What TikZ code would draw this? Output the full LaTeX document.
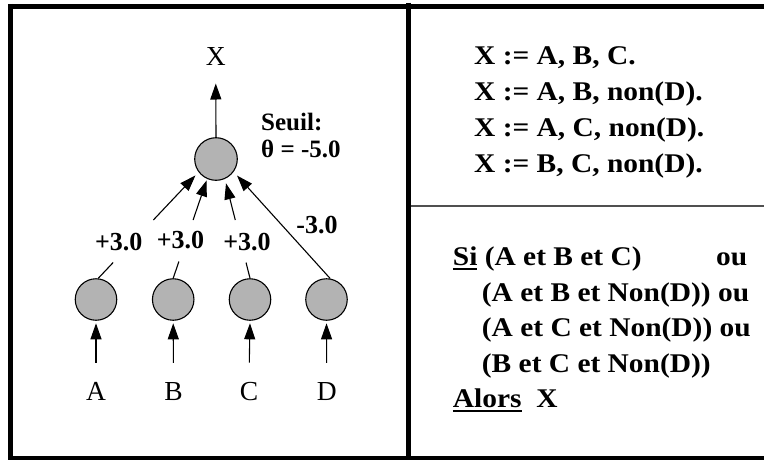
\documentclass[tikz,border=0pt]{standalone}
\usepackage{fontspec}
\setmainfont{Liberation Serif}
\newfontfamily\widefont{Liberation Serif}[FakeStretch=1.09]
\usetikzlibrary{arrows.meta,calc}
\definecolor{nfill}{RGB}{179,179,179}
\definecolor{divgray}{RGB}{80,80,80}
\newcommand\ulin[1]{\setbox0\hbox{#1}\rlap{\rule[-4.5pt]{\wd0}{1.6pt}}#1}
\tikzset{
  neuron/.style={circle, draw, line width=1.1pt, fill=nfill, minimum size=41.5pt, inner sep=0pt},
  conn/.style={line width=1.1pt},
  arr/.style={conn, -{Triangle[length=16pt,width=11pt]}},
  lbl/.style={font=\fontsize{26}{30}\selectfont\bfseries, inner sep=0pt, anchor=base},
  seuil/.style={font=\fontsize{25}{30}\selectfont\bfseries, inner sep=0pt, anchor=base west},
  letter/.style={font=\fontsize{27.5}{32}\selectfont, inner sep=0pt, anchor=base},
  rtext/.style={font=\widefont\bfseries\fontsize{27}{32}\selectfont, inner sep=0pt, anchor=base west},
  frame/.style={line width=5pt},
}
\begin{document}
\begin{tikzpicture}[x=1pt,y=-1pt]
\useasboundingbox (0,0) rectangle (764,459);
% frames
\draw[frame] (10.7,3.8) -- (10.7,462);
\draw[frame] (8.2,6.3) -- (770,6.3);
\draw[frame] (408,2.7) -- (408,462);
\draw[line width=4pt] (8.2,458) -- (770,458);
\draw[line width=1.5pt, divgray] (410.5,206) -- (770,206);

% neurons
\node[neuron, minimum size=42.6pt] (top) at (216,159) {};
\node[neuron] (iA) at (96,299.5) {};
\node[neuron] (iB) at (173.2,299.5) {};
\node[neuron] (iC) at (250,299.5) {};
\node[neuron] (iD) at (326.5,299.5) {};

% letters
\node[letter] (lX) at (215.7,65.7) {X};
\node[letter] (lA) at (96,400) {A};
\node[letter] (lB) at (173.5,400) {B};
\node[letter] (lC) at (249,400) {C};
\node[letter] (lD) at (326.7,400) {D};

% output and inputs
\draw[arr, shorten >=17.6pt] (top.north) -- (lX.south);
\draw[arr, shorten <=19pt, shorten >=2.5pt] (lA.north) -- (iA.south);
\draw[arr, shorten <=19pt, shorten >=2.5pt] (lB.north) -- (iB.south);
\draw[arr, shorten <=19pt, shorten >=2.5pt] (lC.north) -- (iC.south);
\draw[arr, shorten <=19pt, shorten >=2.5pt] (lD.north) -- (iD.south);

% weighted connections
\draw[conn] (iA.84) -- ($(iA.84)!0.149!(top.217)$);
\draw[arr, shorten >=4.5pt] ($(iA.84)!0.55!(top.217)$) -- (top.217);
\draw[conn] (iB.90) -- ($(iB.90)!0.168!(top.246)$);
\draw[arr, shorten >=1.5pt] ($(iB.90)!0.586!(top.246)$) -- (top.246);
\draw[conn] (iC.90) -- ($(iC.90)!0.158!(top.294)$);
\draw[arr, shorten >=4.5pt] ($(iC.90)!0.586!(top.294)$) -- (top.294);
\draw[arr, shorten >=5pt] (iD.80) -- (top.324);

% weights
\node[lbl] (wA) at (118.7,250.7) {+3.0};
\node[lbl] (wB) at (180.5,248.3) {+3.0};
\node[lbl] (wC) at (247,250.7) {+3.0};
\node[lbl] (wD) at (317,233.3) {-3.0};

% threshold
\node[seuil] (s1) at (261,130) {Seuil:};
\node[seuil] (s2) at (261,157.7) {θ = -5.0};

% rules
\node[rtext] (r1) at (474,64.3) {X := A, B, C.};
\node[rtext] (r2) at (474,100) {X := A, B, non(D).};
\node[rtext] (r3) at (474,136) {X := A, C, non(D).};
\node[rtext] (r4) at (474,172) {X := B, C, non(D).};

% si ... alors
\node[rtext] (t1) at (452.7,265.5) {\ulin{Si} (A et B et C)};
\node[rtext] (t1b) at (716,265.5) {ou};
\node[rtext] (t2) at (481.7,301) {(A et B et Non(D)) ou};
\node[rtext] (t3) at (481.7,336.5) {(A et C et Non(D)) ou};
\node[rtext] (t4) at (481.7,372) {(B et C et Non(D))};
\node[rtext] (t5) at (452.7,407) {\ulin{Alors}~~X};
\end{tikzpicture}
\end{document}
